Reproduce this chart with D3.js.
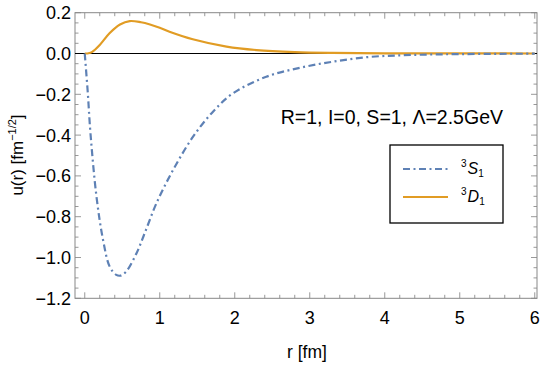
<!DOCTYPE html>
<html>
<head>
<meta charset="utf-8">
<script src="https://cdn.jsdelivr.net/npm/d3@7"></script>
<style>
  body { margin: 0; background: #fff; }
  svg { display: block; font-family: "Liberation Sans", Arial, sans-serif; }
</style>
</head>
<body>
<div id="chart"></div>
<script>
// radial wave functions
const rS = [0, 0.04, 0.076, 0.156, 0.244, 0.333, 0.42, 0.476, 0.55, 0.689, 0.8, 0.956, 1.178, 1.444, 1.71, 1.978, 2.42, 2.87, 3.31, 3.76, 4.2, 4.6, 5.0, 5.5, 6.0];
const uS = [0, -0.19, -0.39, -0.70, -0.914, -1.045, -1.085, -1.089, -1.07, -0.98, -0.88, -0.734, -0.571, -0.408, -0.285, -0.195, -0.114, -0.070, -0.040, -0.018, -0.009, -0.005, -0.003, -0.0015, -0.001];

const rD = [0, 0.05, 0.1, 0.2, 0.33, 0.47, 0.6, 0.75, 0.87, 1.0, 1.13, 1.44, 1.89, 2.29, 2.8, 3.3, 4.0, 5.0, 6.0];
const uD = [0, 0.001, 0.008, 0.042, 0.099, 0.142, 0.159, 0.153, 0.142, 0.126, 0.107, 0.070, 0.034, 0.017, 0.007, 0.003, 0.001, 0.0003, 0.0001];

const xTicks = [0, 1, 2, 3, 4, 5, 6];
const yTicks = [0.2, 0.0, -0.2, -0.4, -0.6, -0.8, -1.0, -1.2];

const colors = { S: "#5e81b5", D: "#e19c24" };
const dotDash = "7,3.5,2,3.5";

const width = 542, height = 365;
const frame = { left: 75, right: 537, top: 12.7, bottom: 298.3 };

const svg = d3.select("#chart").append("svg")
    .attr("width", width)
    .attr("height", height);

const x = d3.scaleLinear().domain([-0.13, 6.03]).range([frame.left, frame.right]);
const y = d3.scaleLinear().domain([-1.2, 0.2]).range([frame.bottom, frame.top]);

// minor ticks
const xMinor = d3.range(0, 6.001, 0.2).filter(v => Math.abs(v - Math.round(v)) > 1e-6);
const yMinor = d3.range(-1.2, 0.2001, 0.05).filter(v => Math.abs(v / 0.2 - Math.round(v / 0.2)) > 1e-6);

const tickColor = "#999";
const ticks = svg.append("g").attr("stroke", tickColor).attr("stroke-width", 1);

function drawTicks(vals, len) {
    vals.forEach(v => {
        const px = x(v);
        ticks.append("line").attr("x1", px).attr("x2", px).attr("y1", frame.bottom).attr("y2", frame.bottom - len);
        ticks.append("line").attr("x1", px).attr("x2", px).attr("y1", frame.top).attr("y2", frame.top + len);
    });
}
function drawYTicks(vals, len) {
    vals.forEach(v => {
        const py = y(v);
        ticks.append("line").attr("y1", py).attr("y2", py).attr("x1", frame.left).attr("x2", frame.left + len);
        ticks.append("line").attr("y1", py).attr("y2", py).attr("x1", frame.right).attr("x2", frame.right - len);
    });
}
drawTicks(xTicks, 6);
drawTicks(xMinor, 3.5);
drawYTicks(yTicks, 6);
drawYTicks(yMinor, 3.5);

// frame
svg.append("rect")
    .attr("x", frame.left).attr("y", frame.top)
    .attr("width", frame.right - frame.left).attr("height", frame.bottom - frame.top)
    .attr("fill", "none").attr("stroke", "#888").attr("stroke-width", 1);

// zero line
svg.append("line")
    .attr("x1", frame.left).attr("x2", frame.right)
    .attr("y1", y(0)).attr("y2", y(0))
    .attr("stroke", "#000").attr("stroke-width", 1);

// tick labels
svg.append("g").selectAll("text").data(xTicks).join("text")
    .attr("x", d => x(d)).attr("y", 324)
    .attr("text-anchor", "middle")
    .attr("font-size", 18)
    .text(d => d);

const fmt = d3.format(".1f");
svg.append("g").selectAll("text").data(yTicks).join("text")
    .attr("x", 71).attr("y", d => y(d) + 6.5)
    .attr("text-anchor", "end")
    .attr("font-size", 18)
    .text(d => fmt(d));

// axis labels
svg.append("text")
    .attr("x", 307).attr("y", 358)
    .attr("text-anchor", "middle")
    .attr("font-size", 17.5)
    .text("r [fm]");

const yl = svg.append("text")
    .attr("transform", "translate(23,155) rotate(-90)")
    .attr("text-anchor", "middle")
    .attr("font-size", 17);
yl.append("tspan").text("u(r) [fm");
yl.append("tspan").attr("dy", -7).attr("font-size", 11).text("−1/2");
yl.append("tspan").attr("dy", 7).text("]");

// curves
const line = d3.line()
    .x(d => x(d[0]))
    .y(d => y(d[1]))
    .curve(d3.curveCatmullRom.alpha(0.5));

const plot = svg.append("g");
plot.append("path")
    .datum(d3.zip(rD, uD))
    .attr("d", line)
    .attr("fill", "none")
    .attr("stroke", colors.D)
    .attr("stroke-width", 2.2);

plot.append("path")
    .datum(d3.zip(rS, uS))
    .attr("d", line)
    .attr("fill", "none")
    .attr("stroke", colors.S)
    .attr("stroke-width", 2.2)
    .attr("stroke-dasharray", dotDash);

// annotation
svg.append("text")
    .attr("x", 503).attr("y", 124)
    .attr("text-anchor", "end")
    .attr("font-size", 19.5)
    .text("R=1, I=0, S=1, Λ=2.5GeV");

// legend
const legend = svg.append("g");
legend.append("rect")
    .attr("x", 390).attr("y", 145)
    .attr("width", 113).attr("height", 78)
    .attr("fill", "#fff").attr("stroke", "#000").attr("stroke-width", 1.3);

const legendRows = [
    { key: "S", letter: "S", y: 169, dash: dotDash },
    { key: "D", letter: "D", y: 197, dash: null }
];
legendRows.forEach(r => {
    legend.append("line")
        .attr("x1", 403).attr("x2", 448)
        .attr("y1", r.y).attr("y2", r.y)
        .attr("stroke", colors[r.key]).attr("stroke-width", 2.2)
        .attr("stroke-dasharray", r.dash);
    const t = legend.append("text")
        .attr("x", 461).attr("y", r.y + 5)
        .attr("font-size", 16);
    t.append("tspan").attr("dy", -7).attr("font-size", 10).text("3");
    t.append("tspan").attr("dy", 7).attr("font-style", "italic").attr("dx", 1).text(r.letter);
    t.append("tspan").attr("dy", 3).attr("font-size", 10).text("1");
});
</script>
</body>
</html>
